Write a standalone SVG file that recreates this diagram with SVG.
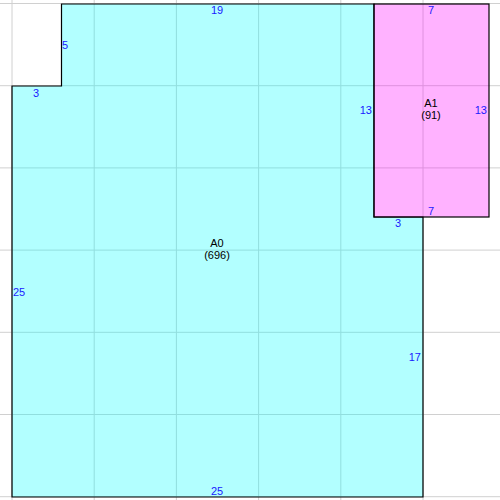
<svg xmlns="http://www.w3.org/2000/svg" width="500" height="500" viewBox="0 0 500 500">
<style>
.grid{stroke:#d0d0d0;stroke-width:1;fill:none}
.room{stroke:#000;stroke-width:1.2;fill-opacity:0.3}
.dim{font-family:"Liberation Sans",Arial,sans-serif;font-size:11px;fill:#1a1aff}
.lbl{font-family:"Liberation Sans",Arial,sans-serif;font-size:11px;fill:#000;text-anchor:middle}
</style>
<rect width="500" height="500" fill="#fff"/>
<g id="grid" class="grid">
<path d="M12 0V500M94.2 0V500M176.4 0V500M258.6 0V500M340.8 0V500M423 0V500M0 3.5H500M0 85.7H500M0 167.9H500M0 250.1H500M0 332.3H500M0 414.5H500M0 496.7H500"/>
</g>
<g id="A0">
<path class="room" fill="#00ffff" d="M61.5 4H374V217H423V497H12V86H61.5Z"/>
<text class="dim" x="217" y="14" text-anchor="middle">19</text>
<text class="dim" x="62" y="49">5</text>
<text class="dim" x="36" y="97" text-anchor="middle">3</text>
<text class="dim" x="13" y="296">25</text>
<text class="dim" x="217" y="495" text-anchor="middle">25</text>
<text class="dim" x="421" y="361" text-anchor="end">17</text>
<text class="dim" x="398" y="227" text-anchor="middle">3</text>
<text class="lbl" x="217" y="247">A0</text>
<text class="lbl" x="217" y="259">(696)</text>
</g>
<g id="A1">
<rect class="room" fill="#ff00ff" x="374" y="4" width="115" height="213"/>
<text class="dim" x="431" y="14" text-anchor="middle">7</text>
<text class="dim" x="431" y="215" text-anchor="middle">7</text>
<text class="dim" x="372" y="114" text-anchor="end">13</text>
<text class="dim" x="487" y="114" text-anchor="end">13</text>
<text class="lbl" x="431" y="107">A1</text>
<text class="lbl" x="431" y="119">(91)</text>
</g>
<g id="connectors"/>
</svg>
